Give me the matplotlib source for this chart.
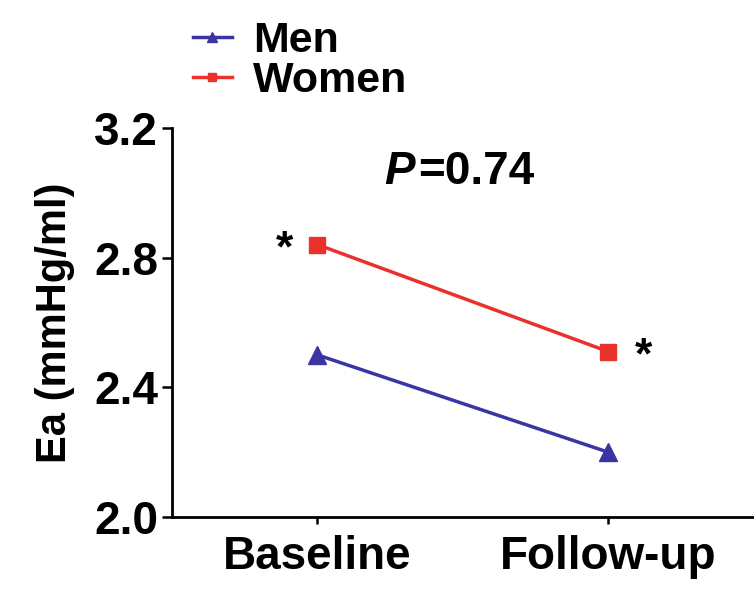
import matplotlib
matplotlib.use("Agg")
import matplotlib.pyplot as plt

plt.rcParams['font.family'] = ['Liberation Sans', 'DejaVu Sans']
plt.rcParams['font.weight'] = 'bold'
plt.rcParams['axes.labelweight'] = 'bold'

grupos = ['Baseline', 'Follow-up']
homens = [2.50, 2.20]
mulheres = [2.84, 2.51]
yticks = [2.0, 2.4, 2.8, 3.2]
texto_p = '=0.74'

azul = '#3b35a3'
vermelho = '#e8322b'

fig = plt.figure(figsize=(7.54, 5.89), dpi=100)
ax = fig.add_axes([0.228, 0.122, 0.772, 0.661])

x = list(range(len(grupos)))
ax.plot(x, homens, color=azul, lw=2.5, marker='^', ms=13, label='Men')
ax.plot(x, mulheres, color=vermelho, lw=2.5, marker='s', ms=12, label='Women')

# asteriscos ao lado dos pontos das mulheres
ax.annotate('*', (x[0], mulheres[0]), xytext=(-24, -4), textcoords='offset points',
            ha='center', va='center', fontsize=32)
ax.annotate('*', (x[1], mulheres[1]), xytext=(25, -4), textcoords='offset points',
            ha='center', va='center', fontsize=32)

t = ax.text(0.23, 3.065, 'P', style='italic', fontsize=33, ha='left', va='center')
ax.annotate(texto_p, xy=(1, 0), xycoords=t, xytext=(2, 0), textcoords='offset points',
            ha='left', va='bottom', fontsize=33)

ax.set_xlim(-0.5, 1.5)
ax.set_ylim(2.0, 3.2)
ax.set_yticks(yticks)
ax.set_yticklabels([f'{v:.1f}' for v in yticks])
ax.set_xticks(x)
ax.set_xticklabels(grupos)
ax.tick_params(axis='y', labelsize=33, width=1.8, length=7, pad=3)
ax.tick_params(axis='x', labelsize=33, width=1.8, length=5, pad=8)
ax.set_ylabel('Ea (mmHg/ml)', fontsize=30, labelpad=14)

for lado in ['top', 'right']:
    ax.spines[lado].set_visible(False)
for lado in ['left', 'bottom']:
    ax.spines[lado].set_linewidth(2)

fig.legend(loc='upper left', bbox_to_anchor=(0.256, 0.965), frameon=False,
           fontsize=31, handlelength=0.9, handletextpad=0.5, labelspacing=0.0,
           borderpad=0, borderaxespad=0, markerscale=0.5)

plt.savefig('out.png', dpi=100)
